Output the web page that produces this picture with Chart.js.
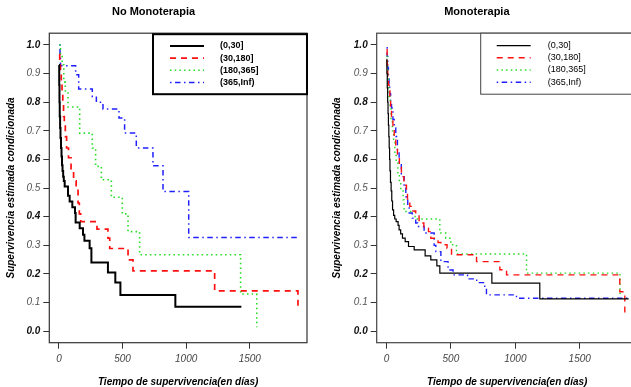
<!DOCTYPE html>
<html><head><meta charset="utf-8">
<script src="https://cdn.jsdelivr.net/npm/chart.js@4.4.0/dist/chart.umd.min.js"></script>
<style>
html,body{margin:0;padding:0;background:#fff;overflow:hidden;width:631px;height:387px;}
#wrap{position:relative;width:631px;height:387px;overflow:hidden;background:#fff;}
canvas{position:absolute;top:0;}
#c1{left:0;width:356px;height:387px;}
#c2{left:316px;width:376px;height:387px;}
</style></head><body>
<div id="wrap"><canvas id="c1" width="356" height="387"></canvas><canvas id="c2" width="376" height="387"></canvas></div>
<script>
// ---------- tick labels / categories ----------
const xTickValues = [0, 500, 1000, 1500];
const yTickValues = [0.0, 0.1, 0.2, 0.3, 0.4, 0.5, 0.6, 0.7, 0.8, 0.9, 1.0];
const groupLabels = ['(0,30]', '(30,180]', '(180,365]', '(365,Inf)'];
const panelTitles = ['No Monoterapia', 'Monoterapia'];
const xAxisTitle = 'Tiempo de supervivencia(en días)';
const yAxisTitle = 'Supervivencia estimada condicionada';

// ---------- No Monoterapia (left) ----------
const noMono030Time = [0,2,4,6,9,12,16,20,24,28,33,38,45,71,84,105,126,131,163,189,200,241,255,385,443,483,915,1434];
const noMono030Surv = [0.93,0.86,0.80,0.75,0.71,0.675,0.64,0.61,0.58,0.56,0.54,0.525,0.506,0.473,0.453,0.433,0.413,0.38,0.36,0.337,0.316,0.29,0.24,0.205,0.17,0.127,0.086,0.086];
const noMono30180Time = [0,6,12,18,24,30,36,42,50,60,75,95,115,135,150,160,171,299,385,399,543,582,1224,1879];
const noMono30180Surv = [0.966,0.93,0.90,0.87,0.83,0.79,0.75,0.72,0.68,0.64,0.606,0.553,0.525,0.505,0.448,0.41,0.383,0.357,0.325,0.289,0.249,0.211,0.141,0.077];
const noMono180365Time = [0,12,25,38,50,71,163,262,288,333,412,498,543,634,1428,1555];
const noMono180365Surv = [1.0,0.965,0.931,0.87,0.832,0.783,0.692,0.64,0.576,0.529,0.468,0.41,0.348,0.267,0.13,0.014];
const noMono365InfTime = [0,8,12,131,155,262,294,346,472,516,608,739,818,1020,1879];
const noMono365InfSurv = [1.0,0.96,0.927,0.896,0.846,0.82,0.80,0.776,0.745,0.692,0.64,0.578,0.488,0.327,0.327];

// ---------- Monoterapia (right) ----------
const mono030Time = [0,3,6,9,12,15,18,21,24,27,31,36,41,47,55,64,75,90,98,110,124,145,171,215,300,344,391,414,818,1190,1880];
const mono030Surv = [0.95,0.90,0.85,0.80,0.76,0.72,0.68,0.64,0.60,0.56,0.52,0.49,0.455,0.424,0.405,0.392,0.383,0.37,0.354,0.34,0.325,0.313,0.296,0.284,0.263,0.249,0.228,0.203,0.168,0.113,0.113];
const mono30180Time = [0,5,10,15,20,26,32,39,50,60,72,85,100,116,135,155,163,181,200,227,253,290,326,344,400,422,470,505,699,880,932,1811,1850];
const mono30180Surv = [0.983,0.93,0.89,0.86,0.84,0.82,0.78,0.75,0.71,0.68,0.645,0.61,0.575,0.54,0.51,0.488,0.459,0.436,0.42,0.407,0.378,0.36,0.348,0.325,0.31,0.302,0.29,0.267,0.243,0.215,0.197,0.138,0.063];
const mono180365Time = [0,5,10,15,20,28,35,45,55,65,75,88,100,111,129,137,222,414,460,499,543,1087,1813];
const mono180365Surv = [0.96,0.92,0.88,0.85,0.82,0.78,0.74,0.70,0.66,0.62,0.59,0.55,0.52,0.494,0.459,0.418,0.392,0.343,0.325,0.302,0.27,0.203,0.13];
const mono365InfTime = [0,5,10,15,20,25,32,39,50,60,72,85,98,115,137,150,165,176,200,227,241,292,370,383,422,478,517,629,700,763,776,1009,1880];
const mono365InfSurv = [0.99,0.96,0.92,0.89,0.86,0.83,0.80,0.78,0.74,0.71,0.68,0.63,0.587,0.54,0.50,0.47,0.436,0.413,0.395,0.378,0.366,0.343,0.30,0.278,0.243,0.214,0.197,0.183,0.17,0.15,0.127,0.115,0.115];

const FONT = "'Liberation Sans', Arial, Helvetica, sans-serif";
const pts = (t, s) => t.map((v, i) => ({x: v, y: s[i]}));

const frameAndLegend = {
  id: 'frameAndLegend',
  afterDatasetsDraw(chart, args, o) {
    const {ctx, chartArea: a} = chart;
    ctx.save();
    ctx.strokeStyle = o.frameColor; ctx.lineWidth = o.frameWidth;
    ctx.strokeRect(a.left, a.top, a.right - a.left, a.bottom - a.top);
    const bx = a.right - o.legWidth, by = a.top + o.legTop;
    ctx.fillStyle = '#fff';
    ctx.fillRect(bx, by, o.legWidth, o.legHeight);
    ctx.lineWidth = o.legBorderWidth; ctx.strokeStyle = o.legBorderColor;
    ctx.strokeRect(bx, by, o.legWidth, o.legHeight);
    chart.data.datasets.forEach((ds, i) => {
      const y = by + o.firstRow + i * o.rowGap;
      ctx.beginPath();
      ctx.setLineDash(ds.borderDash || []);
      ctx.lineWidth = ds.borderWidth; ctx.strokeStyle = ds.borderColor; ctx.lineCap = 'butt';
      ctx.moveTo(bx + o.lineStart, y); ctx.lineTo(bx + o.lineEnd, y); ctx.stroke();
      ctx.setLineDash([]);
      ctx.fillStyle = '#000'; ctx.font = o.legFont; ctx.textBaseline = 'middle'; ctx.textAlign = 'left';
      ctx.fillText(ds.label, bx + o.textX, y);
    });
    ctx.restore();
  }
};

function makeChart(id, title, series, cfg) {
  const colors = ['#000000', '#ff1010', '#22dd22', '#2020ff'];
  const dashes = [[], [6, 5], [1.5, 3.2], [1.5, 3.5, 5.5, 3.5]];
  const datasets = series.map((s, i) => ({
    label: groupLabels[i],
    data: pts(s[0], s[1]),
    borderColor: colors[i],
    borderWidth: cfg.widths[i],
    borderDash: dashes[i],
    borderCapStyle: 'butt',
    stepped: 'before',
    pointRadius: 0,
    fill: false,
    tension: 0
  }));
  return new Chart(document.getElementById(id), {
    type: 'line',
    data: {datasets},
    plugins: [frameAndLegend],
    options: {
      responsive: false, animation: false, devicePixelRatio: 1,
      layout: {padding: {left: 0, right: cfg.padRight, top: 0, bottom: 0}},
      plugins: {
        legend: {display: false}, tooltip: {enabled: false},
        title: {display: true, text: title, color: '#000',
          font: {family: FONT, size: 11, weight: 'bold', lineHeight: 1.2},
          padding: {top: 5, bottom: 15}},
        frameAndLegend: cfg.legend
      },
      scales: {
        x: {
          type: 'linear', min: -76, max: 1950,
          afterBuildTicks: (s) => { s.ticks = xTickValues.map(v => ({value: v})); },
          afterFit: (s) => { s.height = 44.3; },
          border: {display: false},
          grid: {display: true, drawOnChartArea: false, drawTicks: true, tickLength: 6, color: '#333'},
          ticks: {autoSkip: false, maxRotation: 0, padding: 5, color: '#444',
            font: {family: FONT, size: 10, style: 'italic', lineHeight: 1.2},
            callback: (v) => String(v)},
          title: {display: true, text: xAxisTitle, color: '#000',
            font: {family: FONT, size: 10, style: 'italic', weight: 'bold', lineHeight: 1},
            padding: {top: 0, bottom: 0}}
        },
        y: {
          type: 'linear', min: -0.04, max: 1.041,
          afterBuildTicks: (s) => { s.ticks = yTickValues.map(v => ({value: v})); },
          afterFit: (s) => { s.width = cfg.yWidth; },
          border: {display: false},
          grid: {display: true, drawOnChartArea: false, drawTicks: true, tickLength: 6, color: '#333'},
          ticks: {autoSkip: false, padding: 3,
            color: (c) => (c.index % 2 === 0 ? '#111' : '#555'),
            font: (c) => ({family: FONT, size: 10, style: 'italic', weight: (c.index % 2 === 0 ? 'bold' : 'normal')}),
            callback: (v) => Number(v).toFixed(1)},
          title: {display: true, text: yAxisTitle, color: '#000',
            font: {family: FONT, size: 10, style: 'italic', weight: 'bold', lineHeight: 1.2},
            padding: {top: cfg.yTitlePad, bottom: 0}}
        }
      }
    }
  });
}

makeChart('c1', panelTitles[0], [
  [noMono030Time, noMono030Surv], [noMono30180Time, noMono30180Surv],
  [noMono180365Time, noMono180365Surv], [noMono365InfTime, noMono365InfSurv]
], {
  widths: [2, 1.7, 1.6, 1.5], padRight: 49, yWidth: 49.3, yTitlePad: 5,
  legend: {frameColor: '#333', frameWidth: 1.2, legWidth: 154, legTop: 1, legHeight: 60,
    legBorderWidth: 2, legBorderColor: '#000', firstRow: 11.7, rowGap: 12.2,
    lineStart: 17, lineEnd: 51, textX: 67, legFont: "bold 9px " + FONT}
});

makeChart('c2', panelTitles[1], [
  [mono030Time, mono030Surv], [mono30180Time, mono30180Surv],
  [mono180365Time, mono180365Surv], [mono365InfTime, mono365InfSurv]
], {
  widths: [1.2, 1.4, 1.4, 1.4], padRight: 54.3, yWidth: 60.7, yTitlePad: 15,
  legend: {frameColor: '#444', frameWidth: 1.2, legWidth: 157, legTop: 0, legHeight: 61,
    legBorderWidth: 1, legBorderColor: '#444', firstRow: 12.4, rowGap: 12.2,
    lineStart: 16, lineEnd: 50, textX: 67, legFont: "9px " + FONT}
});
</script>
</body></html>
